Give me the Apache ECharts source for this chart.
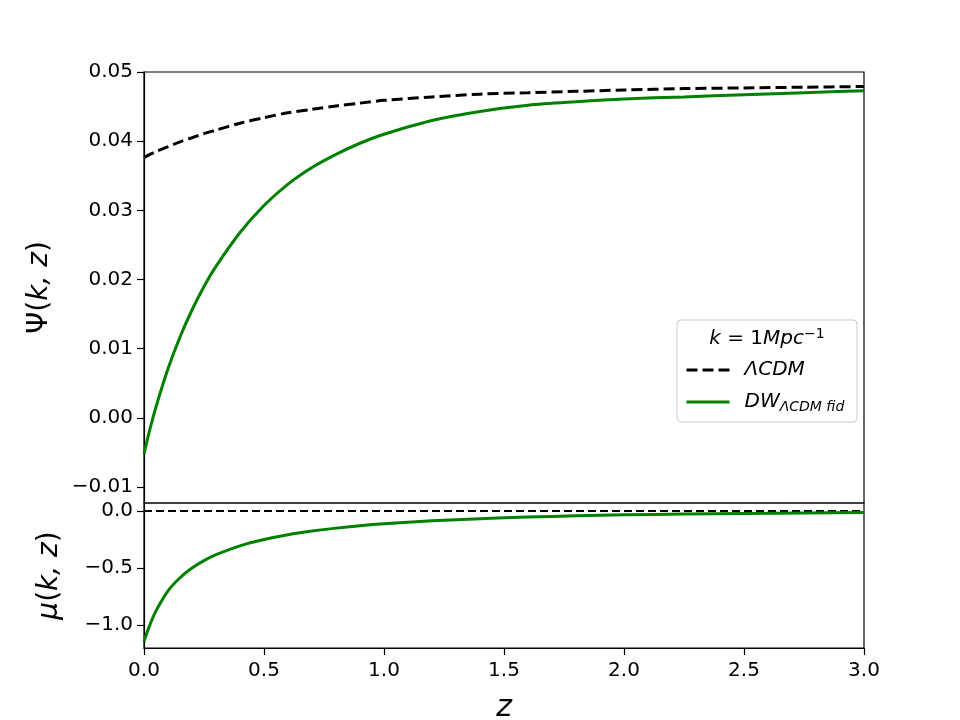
<!DOCTYPE html>
<html lang="en">
<head>
    <meta charset="UTF-8">
    <title>Psi(k,z) and mu(k,z)</title>
    <script src="https://cdn.jsdelivr.net/npm/echarts@6/dist/echarts.min.js"></script>
    <style>
        html, body { margin: 0; padding: 0; background: #fff; }
        #chart { width: 960px; height: 720px; }
    </style>
</head>
<body>
    <div id="chart"></div>
    <script>
        // redshift samples
        var zVals = [0, 0.025, 0.05, 0.1, 0.15, 0.2, 0.25, 0.3, 0.4, 0.5, 0.6, 0.7, 0.8, 0.9,
                     1.0, 1.2, 1.4, 1.6, 1.8, 2.0, 2.25, 2.5, 2.75, 3.0];

        // top panel: Psi(k,z)
        var psiLcdm = [0.0376, 0.0381, 0.0385, 0.0392, 0.0399, 0.0405, 0.0411, 0.0416, 0.0426, 0.0434,
                       0.0441, 0.0446, 0.0451, 0.0455, 0.0459, 0.0464, 0.0468, 0.0470, 0.0472, 0.0474,
                       0.0476, 0.0477, 0.0478, 0.0479];
        var psiDW = [-0.0052, -0.0016, 0.0016, 0.0071, 0.0117, 0.0156, 0.0190, 0.0219, 0.0268, 0.0307,
                     0.0338, 0.0362, 0.0381, 0.0397, 0.0410, 0.0430, 0.0443, 0.0452, 0.0457, 0.0461,
                     0.0464, 0.0467, 0.0470, 0.0473];

        // bottom panel: mu(k,z)
        var muDW = [-1.14, -0.995, -0.875, -0.70, -0.585, -0.50, -0.435, -0.383, -0.305, -0.25,
                    -0.208, -0.176, -0.150, -0.129, -0.112, -0.086, -0.067, -0.053, -0.042, -0.034,
                    -0.027, -0.021, -0.017, -0.014];
        var zLcdmMu = [0, 3];
        var muLcdm = [0, 0];

        var xTicks = [0, 0.5, 1, 1.5, 2, 2.5, 3];
        var psiTicks = [-0.01, 0, 0.01, 0.02, 0.03, 0.04, 0.05];
        var muTicks = [-1.0, -0.5, 0.0];

        var FONT = 'DejaVu Sans';
        var green = '#008000';

        function pairs(xs, ys) {
            return xs.map(function (x, i) { return [x, ys[i]]; });
        }
        function minus(s) { return s.replace('-', '\u2212'); }

        var chart = echarts.init(document.getElementById('chart'));

        var axisCommon = {
            axisLine: { show: true, onZero: false, lineStyle: { color: '#000', width: 1.2 } },
            axisTick: { show: true, inside: false, length: 7, lineStyle: { color: '#000', width: 1.2 } },
            splitLine: { show: false },
            axisLabel: { color: '#000', fontFamily: FONT, fontSize: 20 }
        };

        var nameRich = {
            u: { fontFamily: FONT, fontSize: 28, color: '#000' },
            i: { fontFamily: FONT, fontSize: 28, fontStyle: 'italic', color: '#000' }
        };

        var option = {
            animation: false,
            backgroundColor: '#fff',
            grid: [
                { left: 144, top: 72, width: 720, height: 431, outerBoundsMode: 'none', containLabel: false,
                  show: true, borderColor: '#000', borderWidth: 1.2, backgroundColor: 'transparent' },
                { left: 144, top: 503, width: 720, height: 145, outerBoundsMode: 'none', containLabel: false,
                  show: true, borderColor: '#000', borderWidth: 1.2, backgroundColor: 'transparent' }
            ],
            xAxis: [
                {
                    gridIndex: 0, type: 'value', min: 0, max: 3, interval: 0.5,
                    axisLine: { show: false }, axisTick: { show: false }, axisLabel: { show: false },
                    splitLine: { show: false }
                },
                Object.assign({}, axisCommon, {
                    gridIndex: 1, type: 'value', min: 0, max: 3, interval: 0.5,
                    axisLabel: Object.assign({}, axisCommon.axisLabel, {
                        margin: 13,
                        customValues: xTicks,
                        formatter: function (v) { return v.toFixed(1); }
                    }),
                    axisTick: Object.assign({}, axisCommon.axisTick, { customValues: xTicks }),
                    name: 'z',
                    nameLocation: 'middle',
                    nameGap: 45,
                    nameTextStyle: { fontFamily: FONT, fontSize: 30, fontStyle: 'italic', color: '#000' }
                })
            ],
            yAxis: [
                Object.assign({}, axisCommon, {
                    gridIndex: 0, type: 'value', min: -0.0123, max: 0.05,
                    axisLabel: Object.assign({}, axisCommon.axisLabel, {
                        margin: 11,
                        customValues: psiTicks,
                        formatter: function (v) { return minus(v.toFixed(2)); }
                    }),
                    axisTick: Object.assign({}, axisCommon.axisTick, { customValues: psiTicks }),
                    name: '{u|\u03A8(}{i|k, z}{u|)}',
                    nameLocation: 'middle',
                    nameRotate: 90,
                    nameGap: 90,
                    nameTextStyle: { color: '#000', rich: nameRich }
                }),
                Object.assign({}, axisCommon, {
                    gridIndex: 1, type: 'value', min: -1.2, max: 0.07,
                    axisLabel: Object.assign({}, axisCommon.axisLabel, {
                        margin: 11,
                        customValues: muTicks,
                        formatter: function (v) { return minus(v.toFixed(1)); }
                    }),
                    axisTick: Object.assign({}, axisCommon.axisTick, { customValues: muTicks }),
                    name: '{i|\u03BC}{u|(}{i|k, z}{u|)}',
                    nameLocation: 'middle',
                    nameRotate: 90,
                    nameGap: 80,
                    nameTextStyle: { color: '#000', rich: nameRich }
                })
            ],
            legend: {
                z: 10,
                data: ['LCDM', 'DW'],
                orient: 'vertical',
                left: 685,
                top: 360,
                padding: 0,
                itemWidth: 43,
                itemHeight: 14,
                itemGap: 10,
                itemStyle: { opacity: 0 },
                lineStyle: { width: 3 },
                formatter: function (name) {
                    if (name === 'LCDM') return '{m|\u039BCDM}';
                    return '{m|DW}{s|\u039BCDM fid}';
                },
                textStyle: {
                    color: '#000',
                    padding: [0, 0, 0, 10],
                    rich: {
                        m: { fontFamily: FONT, fontSize: 20, fontStyle: 'italic', color: '#000', lineHeight: 26 },
                        s: { fontFamily: FONT, fontSize: 14, fontStyle: 'italic', color: '#000', lineHeight: 26, padding: [10, 0, 0, 0] }
                    }
                }
            },
            graphic: [
                {
                    type: 'rect', z: 5,
                    shape: { x: 677, y: 320, width: 180, height: 102, r: 4 },
                    style: { fill: 'rgba(255,255,255,0.8)', stroke: '#cccccc', lineWidth: 1 }
                },
                {
                    type: 'text', z: 10,
                    x: 767, y: 339,
                    style: {
                        text: '{i|k}{u| = 1}{i|Mpc}{p|\u22121}',
                        align: 'center', verticalAlign: 'middle',
                        rich: {
                            i: { fontFamily: FONT, fontSize: 20, fontStyle: 'italic', fill: '#000' },
                            u: { fontFamily: FONT, fontSize: 20, fill: '#000' },
                            p: { fontFamily: FONT, fontSize: 14, fill: '#000', padding: [0, 0, 10, 0] }
                        }
                    }
                }
            ],
            series: [
                {
                    name: 'LCDM', type: 'line', xAxisIndex: 0, yAxisIndex: 0,
                    data: pairs(zVals, psiLcdm), symbol: 'none', smooth: 0.3,
                    lineStyle: { color: '#000', width: 3, type: [11, 5] },
                    itemStyle: { color: '#000' }
                },
                {
                    name: 'DW', type: 'line', xAxisIndex: 0, yAxisIndex: 0,
                    data: pairs(zVals, psiDW), symbol: 'none', smooth: 0.3,
                    lineStyle: { color: green, width: 3 },
                    itemStyle: { color: green }
                },
                {
                    name: 'LCDM', type: 'line', xAxisIndex: 1, yAxisIndex: 1,
                    data: pairs(zLcdmMu, muLcdm), symbol: 'none',
                    lineStyle: { color: '#000', width: 2, type: [8, 4] },
                    itemStyle: { color: '#000' }
                },
                {
                    name: 'DW', type: 'line', xAxisIndex: 1, yAxisIndex: 1,
                    data: pairs(zVals, muDW), symbol: 'none', smooth: 0.3,
                    lineStyle: { color: green, width: 3 },
                    itemStyle: { color: green }
                }
            ]
        };

        chart.setOption(option);

        window.addEventListener('resize', function () {
            chart.resize();
        });
    </script>
</body>
</html>
